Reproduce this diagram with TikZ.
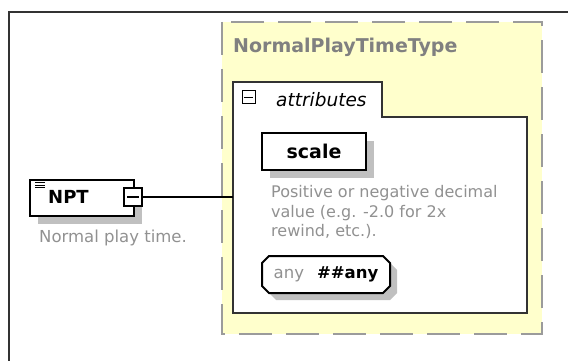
\documentclass[tikz,border=0pt]{standalone}
\usepackage{fontspec}
\setmainfont{DejaVu Sans}
\usetikzlibrary{shadows}
\definecolor{schemayellow}{RGB}{255,255,204}
\definecolor{dashgray}{RGB}{155,155,155}
\definecolor{titlegray}{RGB}{128,128,128}
\definecolor{notegray}{RGB}{145,145,145}
\definecolor{shadegray}{RGB}{192,192,192}
\definecolor{boxdark}{RGB}{51,51,51}

\begin{document}
\begin{tikzpicture}[x=1pt, y=-1pt,
    elembox/.style={draw=black, line width=2pt, fill=white, inner sep=0pt,
      general shadow={fill=shadegray, shadow xshift=8pt, shadow yshift=-8pt}},
    expbox/.style={draw=black, line width=1.5pt, fill=white, inner sep=0pt},
    notetext/.style={inner sep=0pt, text=notegray, font=\fontsize{16.5}{19.5}\selectfont},
    boldlabel/.style={inner sep=0pt, font=\fontsize{18}{22}\selectfont\bfseries}]
  \useasboundingbox (0,0) rectangle (568,361);

  % frame
  \draw[boxdark, line width=2pt] (9,361) -- (9,12) -- (568,12);

  % complex type
  \draw[dashgray, line width=2.5pt, dash pattern=on 33pt off 14pt, fill=schemayellow] (222,22) rectangle (542,334);
  \node[anchor=base west, inner sep=0pt, text=titlegray, font=\fontsize{19}{23}\selectfont\bfseries] (typetitle) at (233,53) {NormalPlayTimeType};

  % attributes
  \draw[boxdark, line width=2pt, fill=white] (233,117) -- (233,82) -- (382,82) -- (382,117) -- (527,117) -- (527,313) -- (233,313) -- cycle;
  \coordinate (attrw) at (233,197);
  \node[expbox, line width=1pt, minimum width=13pt, minimum height=13pt] (attrexp) at (248.5,97.5) {};
  \draw[line width=1.2pt] ([xshift=2.5pt]attrexp.west) -- ([xshift=-2.5pt]attrexp.east);
  \node[anchor=base west, inner sep=0pt, font=\fontsize{18.5}{22}\selectfont\itshape] (attrlabel) at (276,106.5) {attributes};

  \node[elembox, minimum width=104pt, minimum height=37pt, font=\fontsize{19}{23}\selectfont\bfseries] (scaleattr) at (314,151.5) {scale};
  \node[notetext, font=\fontsize{16}{19.5}\selectfont, anchor=north west, align=left] (scalenote) at (271,185.5) {Positive or negative decimal\\value (e.g. -2.0 for 2x\\rewind, etc.).};

  % any attribute (octagon)
  \fill[shadegray, shift={(7,7)}] (269,256) -- (383,256) -- (390,263) -- (390,286) -- (383,293) -- (269,293) -- (262,286) -- (262,263) -- cycle;
  \draw[black, line width=2pt, fill=white] (269,256) -- (383,256) -- (390,263) -- (390,286) -- (383,293) -- (269,293) -- (262,286) -- (262,263) -- cycle;
  \node[inner sep=0pt, minimum width=128pt, minimum height=37pt, font=\fontsize{16.5}{20}\selectfont] (anyattr) at (326,274.5)
    {\textcolor{notegray}{any}\hspace{13pt}{\bfseries\#\#any}};

  % NPT
  \node[elembox, minimum width=104pt, minimum height=36pt, anchor=north west] (npt) at (29,179) {};
  \foreach \y in {182.5,185,187.5}
    \draw[line width=1pt] (35,\y) -- (45,\y);
  \node[boldlabel, anchor=base west] (nptname) at (48,203.5) {NPT};
  \node[expbox, minimum width=18pt, minimum height=18pt] (nptexp) at (133,197) {};
  \draw[line width=1.5pt] ([xshift=4pt]nptexp.west) -- ([xshift=-4pt]nptexp.east);
  \node[notetext, anchor=base west] (nptnote) at (39,242.5) {Normal play time.};

  \draw[line width=1.5pt] (nptexp.east) -- (attrw);
\end{tikzpicture}
\end{document}
